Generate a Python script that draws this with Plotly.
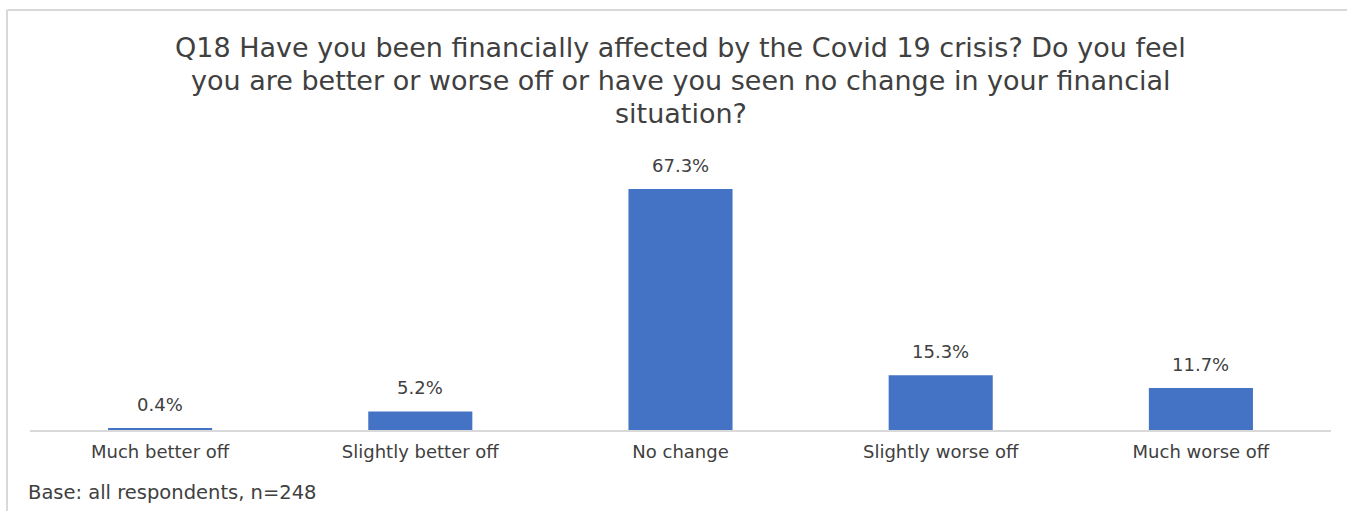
import plotly.graph_objects as go

categories = ["Much better off", "Slightly better off", "No change",
              "Slightly worse off", "Much worse off"]
shares = [0.4, 5.2, 67.3, 15.3, 11.7]
value_labels = ["0.4%", "5.2%", "67.3%", "15.3%", "11.7%"]

title_lines = [
    "Q18 Have you been financially affected by the Covid 19 crisis? Do you feel",
    "you are better or worse off or have you seen no change in your financial",
    "situation?",
]
footer_text = "Base: all respondents, n=248"

FONT = "DejaVu Sans"
TEXT_COLOR = "#404040"
BAR_COLOR = "#4472C4"
GRID_GREY = "#D9D9D9"

W, H = 1347, 511
ML, MR, MT, MB = 30, 16, 150, 81
plot_w = W - ML - MR
plot_h = H - MT - MB


def px_to_paper_x(px):
    return (px - ML) / plot_w


def px_to_paper_y(py):
    return (H - MB - py) / plot_h


fig = go.Figure(
    go.Bar(
        x=categories,
        y=shares,
        width=0.4,
        marker=dict(color=BAR_COLOR, line=dict(width=0)),
        hoverinfo="skip",
    )
)

# value labels above each bar
for cat, val, lab in zip(categories, shares, value_labels):
    fig.add_annotation(
        x=cat, y=val, text=lab, showarrow=False,
        yanchor="middle", yshift=24,
        font=dict(family=FONT, size=18, color=TEXT_COLOR),
    )

# title, one annotation per line to control line spacing
for i, line in enumerate(title_lines):
    fig.add_annotation(
        xref="paper", yref="paper", x=0.5, y=px_to_paper_y(47 + 33 * i),
        text=line, showarrow=False, xanchor="center", yanchor="middle",
        font=dict(family=FONT, size=27, color=TEXT_COLOR),
    )

# footer note
fig.add_annotation(
    xref="paper", yref="paper", x=px_to_paper_x(26), y=px_to_paper_y(492),
    text=footer_text, showarrow=False, xanchor="left", yanchor="middle",
    font=dict(family=FONT, size=19.5, color=TEXT_COLOR),
)

# chart frame (top and left edges)
fig.add_shape(type="line", xref="paper", yref="paper",
              x0=px_to_paper_x(7), x1=px_to_paper_x(W + 5),
              y0=px_to_paper_y(10), y1=px_to_paper_y(10),
              line=dict(color=GRID_GREY, width=2))
fig.add_shape(type="line", xref="paper", yref="paper",
              x0=px_to_paper_x(7), x1=px_to_paper_x(7),
              y0=px_to_paper_y(10), y1=px_to_paper_y(H + 5),
              line=dict(color=GRID_GREY, width=2))

fig.update_layout(
    width=W, height=H,
    margin=dict(l=ML, r=MR, t=MT, b=MB, pad=0),
    paper_bgcolor="white", plot_bgcolor="white",
    showlegend=False,
    bargap=0.6,
    xaxis=dict(
        showline=True, linecolor=GRID_GREY, linewidth=1.5,
        ticks="", showgrid=False, zeroline=False,
        tickfont=dict(family=FONT, size=18, color=TEXT_COLOR),
        ticklabelstandoff=5,
    ),
    yaxis=dict(
        range=[0, 78.2], visible=False, showgrid=False, zeroline=False,
    ),
)

fig.write_html("out.html")
